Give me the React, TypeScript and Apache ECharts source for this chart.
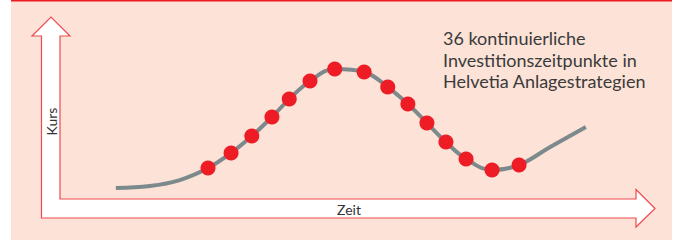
import React, { useEffect, useRef } from "react";
import * as echarts from "echarts";

// Zeit (time, arbitrary units 0..100) and Kurs (price, arbitrary units 0..100)
const curveTime = [9.7, 15.6, 20.8, 25.7, 29.7, 33.3, 36.8, 39.8, 43.4, 47.7, 52.8, 56.9, 60.4, 63.7, 67.0, 70.5, 75.0, 79.7, 85.1, 91.3];
const curveKurs = [6.0, 7.1, 10.4, 17.0, 25.3, 34.6, 45.1, 54.9, 64.8, 71.4, 69.8, 61.5, 52.2, 41.8, 31.3, 22.0, 15.9, 18.7, 28.6, 39.6];
const investTime = [25.7, 29.7, 33.3, 36.8, 39.8, 43.4, 47.7, 52.8, 56.9, 60.4, 63.7, 67.0, 70.5, 75.0, 79.7];
const investKurs = [17.0, 25.3, 34.6, 45.1, 54.9, 64.8, 71.4, 69.8, 61.5, 52.2, 41.8, 31.3, 22.0, 15.9, 18.7];
const titleLines = ["36 kontinuierliche", "Investitionszeitpunkte in", "Helvetia Anlagestrategien"];
const xAxisLabel = "Zeit";
const yAxisLabel = "Kurs";

export default function App() {
  const ref = useRef<HTMLDivElement>(null);
  useEffect(() => {
    if (!ref.current) return;
    const chart = echarts.init(ref.current, null, { renderer: "svg" });
    const red = "#ee1c25";
    const outline = "#ef4a4f";
    chart.setOption({
      animation: false,
      backgroundColor: "#ffffff",
      grid: { left: 60, top: 17, width: 576, height: 182 },
      xAxis: { type: "value", min: 0, max: 100, show: false },
      yAxis: { type: "value", min: 0, max: 100, show: false },
      graphic: [
        { type: "rect", z: -10, shape: { x: 11, y: 0, width: 661, height: 240 }, style: { fill: "#fce2d7" } },
        { type: "rect", z: -9, shape: { x: 11, y: 0, width: 661, height: 1.5 }, style: { fill: "#ec1c24" } },
        {
          type: "polygon",
          z: -5,
          shape: {
            points: [
              [41.5, 218], [41.5, 36], [32, 36], [51, 17], [70, 36], [60, 36],
              [60, 199], [636, 199], [636, 189.5], [655, 208.5], [636, 227], [636, 218],
            ],
          },
          style: { fill: "#ffffff", stroke: outline, lineWidth: 1.2 },
        },
        {
          type: "text",
          x: 51,
          y: 121.5,
          rotation: Math.PI / 2,
          style: { text: yAxisLabel, fill: "#333333", font: "14px Lato", align: "center", verticalAlign: "middle" },
        },
        {
          type: "text",
          x: 349,
          y: 209,
          style: { text: xAxisLabel, fill: "#333333", font: "14px Lato", align: "center", verticalAlign: "middle" },
        },
        {
          type: "text",
          x: 443,
          y: 59.5,
          style: {
            text: titleLines.join("\n"),
            fill: "#3a3a3a",
            font: "18px Lato",
            lineHeight: 21.5,
            align: "left",
            verticalAlign: "middle",
          },
        },
      ],
      series: [
        {
          type: "line",
          data: curveTime.map((t, i) => [t, curveKurs[i]]),
          smooth: 0.4,
          showSymbol: false,
          lineStyle: { color: "#7d8a8d", width: 4 },
          z: 2,
        },
        {
          type: "scatter",
          data: investTime.map((t, i) => [t, investKurs[i]]),
          symbolSize: 15,
          itemStyle: { color: red, opacity: 1 },
          z: 3,
        },
      ],
    });
    return () => chart.dispose();
  }, []);
  return <div ref={ref} style={{ width: 678, height: 240, position: "absolute", left: 0, top: 0 }} />;
}
